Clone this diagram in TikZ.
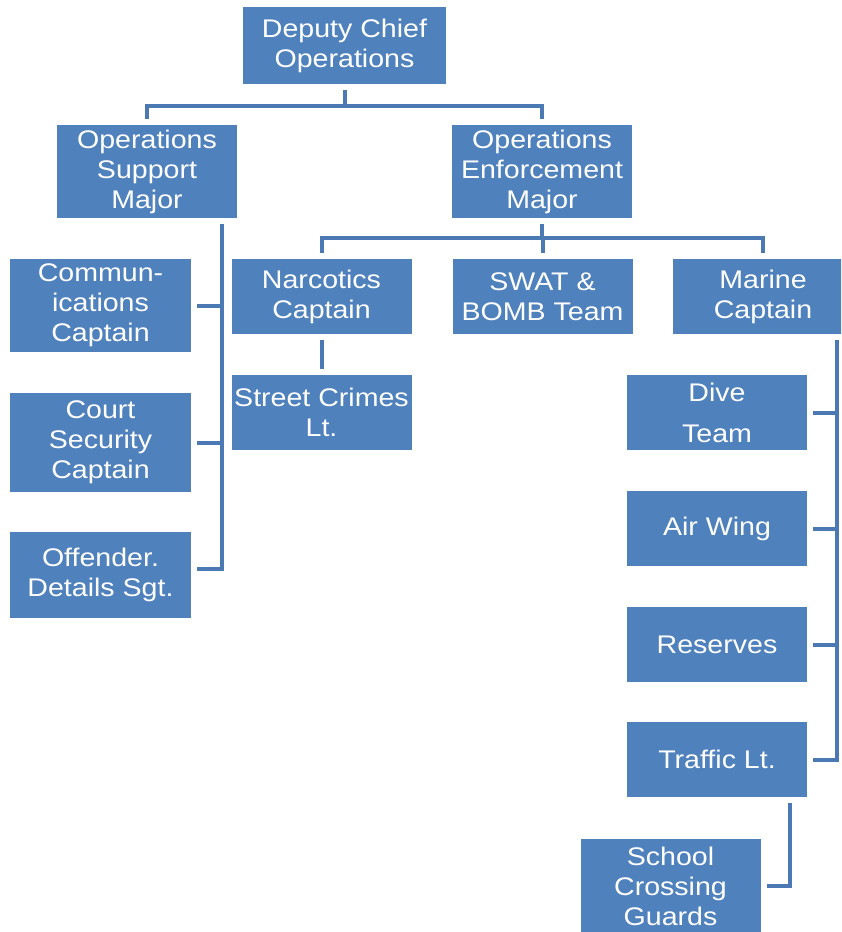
\documentclass[tikz,border=0pt]{standalone}
\usepackage{fontspec}
\setmainfont[FakeStretch=1.12]{Liberation Sans}
\definecolor{orgblue}{HTML}{4F81BD}
\definecolor{linkblue}{HTML}{4A79B4}
\begin{document}
\begin{tikzpicture}[x=1pt,y=-1pt,
    box/.style={fill=orgblue,text=white,align=center,inner sep=0pt,outer sep=6pt,
      minimum width=180pt,minimum height=75pt,font=\fontsize{25.5}{30}\selectfont},
    link/.style={draw=linkblue,line width=4pt}]
                \clip (0,0) rectangle (841,932);
                \node[box,minimum width=203pt,minimum height=77pt] (chief) at (344.5,45.5) {Deputy Chief\\Operations};
                \node[box,minimum height=93pt] (support) at (147,171.5) {Operations\\Support\\Major};
                \node[box,minimum height=93pt] (enforce) at (542,171.5) {Operations\\Enforcement\\Major};
                \node[box,minimum width=181pt,minimum height=93pt] (comm) at (100.5,305.5) {Commun-\\ications\\Captain};
                \node[box,minimum width=181pt,minimum height=99pt] (court) at (100.5,442.5) {Court\\Security\\Captain};
                \node[box,minimum width=181pt,minimum height=86pt] (offender) at (100.5,575) {Offender.\\Details Sgt.};
                \node[box] (narc) at (321.5,296.5) {Narcotics\\Captain};
                \node[box] (swat) at (542.5,296.5) {SWAT \&\\BOMB Team};
                \node[box] (marine) at (763,296.5) {Marine\\Captain};
                \node[box] (street) at (321.5,412) {Street Crimes\\Lt.};
                \node[box] (dive) at (717,412.5) {Dive\\[11pt]Team};
                \node[box] (air) at (717,528.5) {Air Wing};
                \node[box] (reserves) at (717,644.5) {Reserves};
                \node[box] (traffic) at (717,759.5) {Traffic Lt.};
                \node[box,minimum height=94pt] (school) at (670.5,886) {School\\Crossing\\Guards};
                \coordinate (topbus) at (344.5,106);
                \coordinate (enfbus) at (542,238);
                \coordinate (supspine) at ([xshift=75pt]support.south);
                \coordinate (marspine) at ([xshift=74pt]marine.south);
                \draw[link] (chief.south) -- (topbus);
                \draw[link] (support.north) |- (topbus) -| (enforce.north);
                \draw[link] (enforce.south) -- (enfbus);
                \draw[link] (narc.north) |- (enfbus) -| (marine.north);
                \draw[link] (swat.north) -- (swat.north |- enfbus);
                \draw[link] (narc.south) -- (street.north);
                \draw[link] (supspine) |- ([yshift=6pt]offender.east);
                \draw[link] (comm.east) -- (comm.east -| supspine);
                \draw[link] (court.east) -- (court.east -| supspine);
                \draw[link] (marspine) |- (traffic.east);
                \draw[link] (dive.east) -- (dive.east -| marspine);
                \draw[link] (air.east) -- (air.east -| marspine);
                \draw[link] (reserves.east) -- (reserves.east -| marspine);
                \draw[link] ([xshift=73pt]traffic.south) |- (school.east);
            \end{tikzpicture}
\end{document}
